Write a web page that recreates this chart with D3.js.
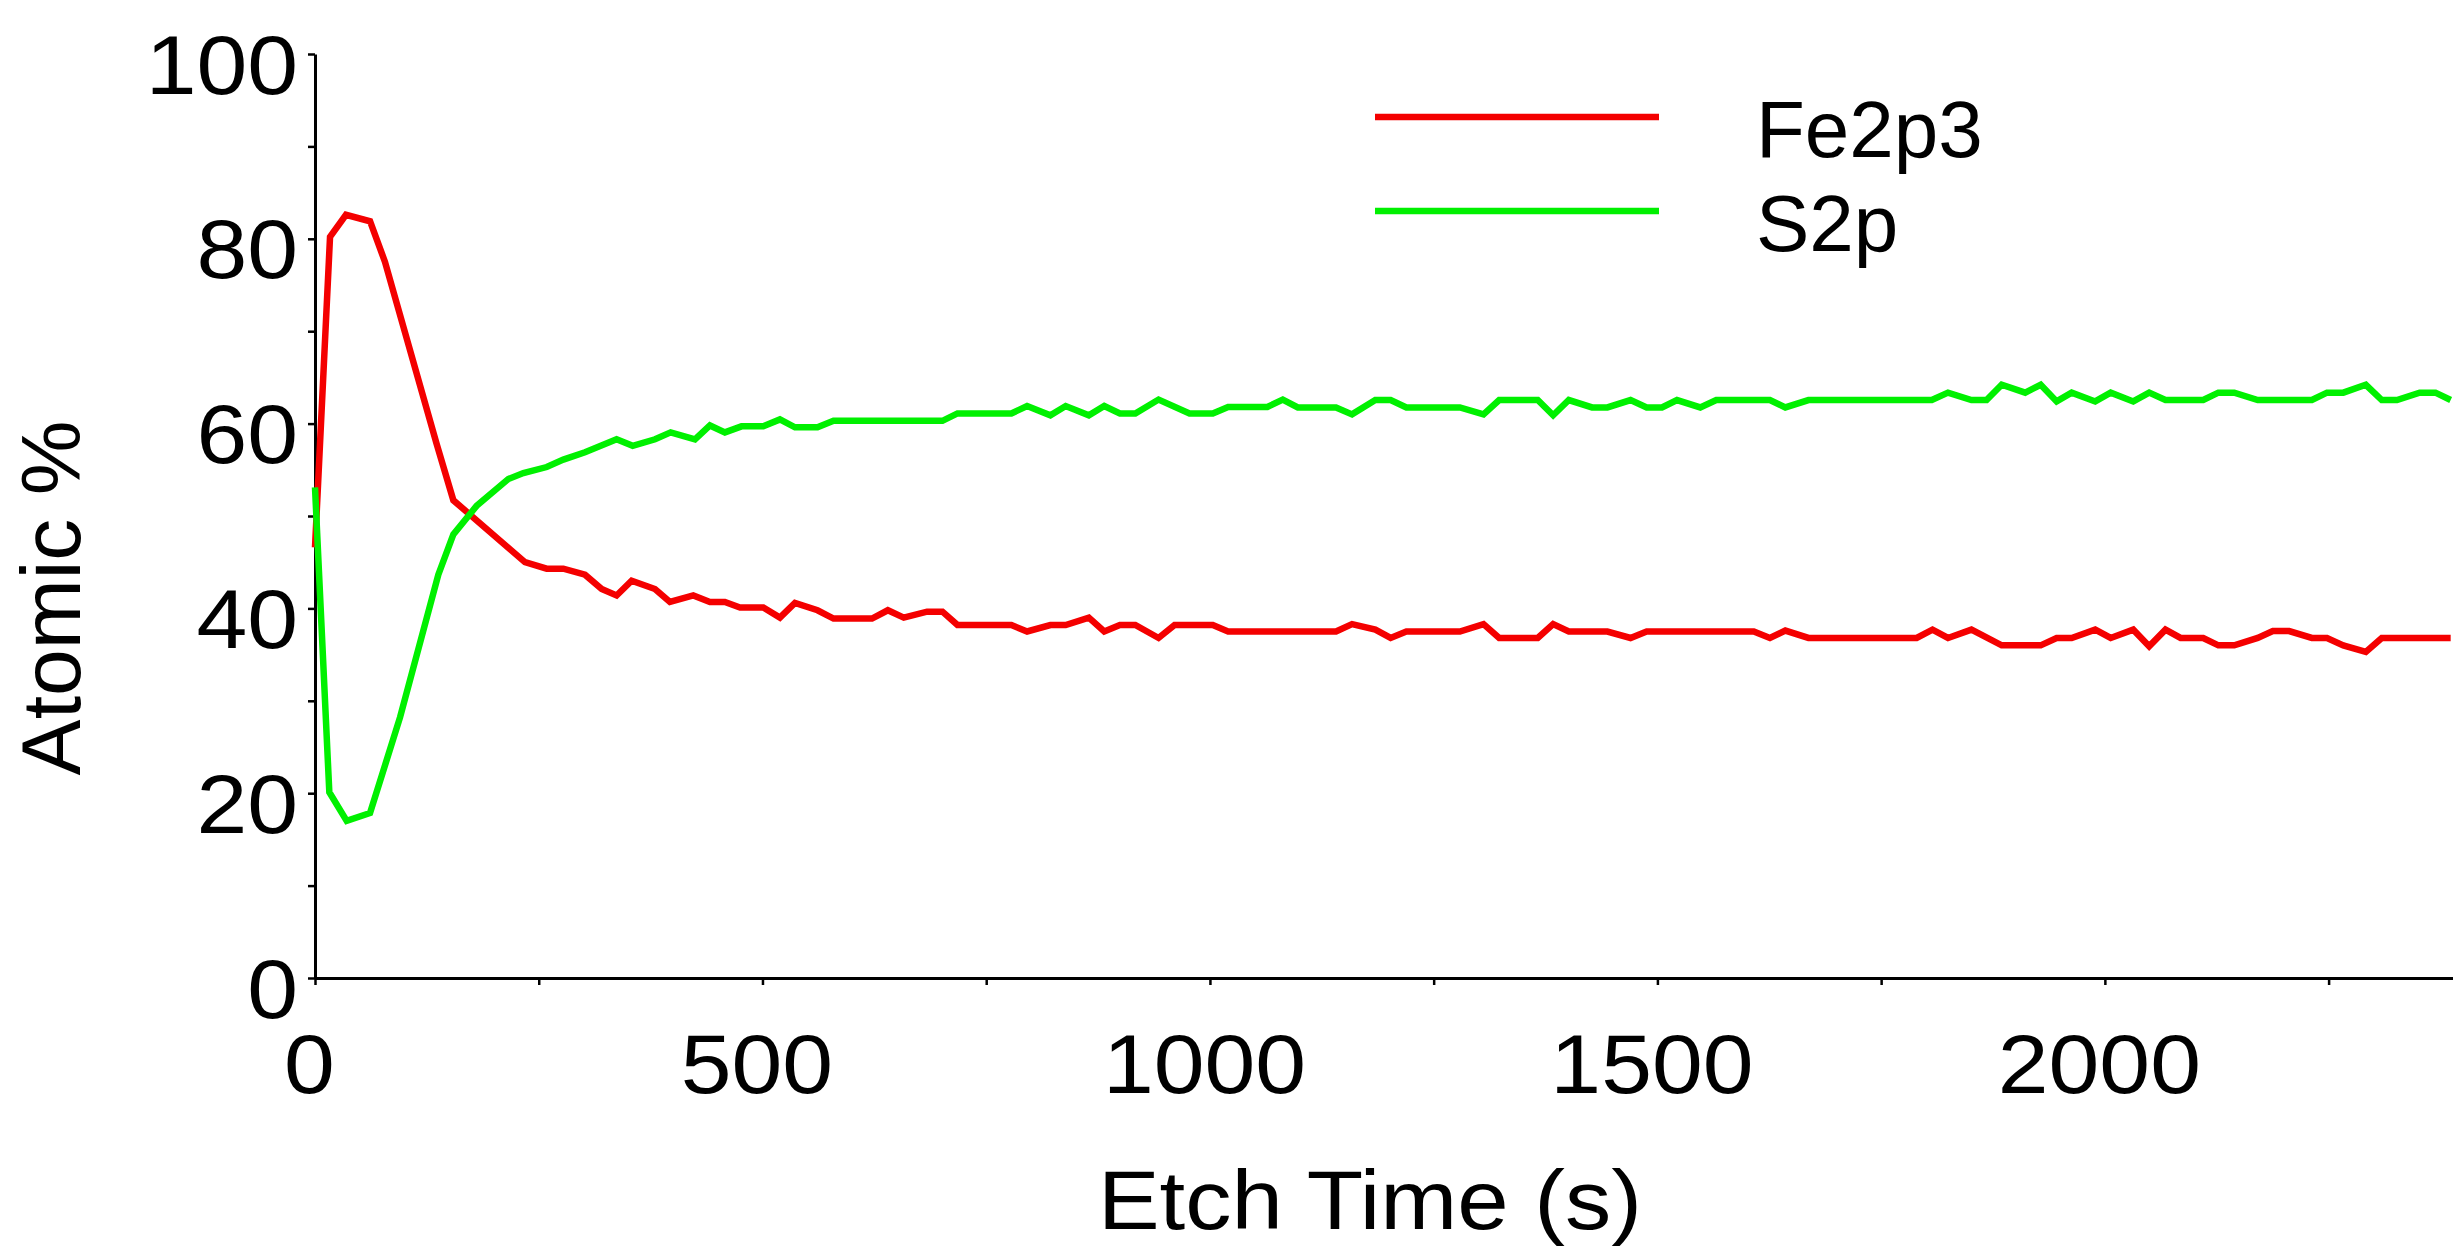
<!DOCTYPE html>
<html>
<head>
<meta charset="utf-8">
<script src="https://cdn.jsdelivr.net/npm/d3@7"></script>
<style>
  html, body { margin: 0; padding: 0; background: #fff; }
  svg text { font-family: "Liberation Sans", Arial, sans-serif; fill: #000; }
</style>
</head>
<body>
<div id="chart"></div>
<script>
// 刻蚀时间 (s) 与原子百分比
var feTime = [0, 16.8, 34.6, 61.5, 78.2, 135.9, 154.6, 234.6, 258.9, 277.5, 301.7, 320.3, 337, 353.8, 379.9,
    396.6, 422.7, 441.3, 458, 474.9, 500.9, 519.5, 536.3, 561.5, 579.4, 622.4, 640.1, 657.9, 683.9, 701.1,
    717.9, 778.1, 795.7, 821.7, 838.8, 864.7, 881.9, 899.4, 916.6, 942.6, 960.5, 1003.2, 1020.3, 1140.9,
    1158.8, 1184.8, 1201.9, 1219.5, 1279.3, 1305.7, 1323.2, 1366.3, 1383.5, 1401, 1444.1, 1470, 1488,
    1607.7, 1625.7, 1642.9, 1668.8, 1789.7, 1807.4, 1824.7, 1850.9, 1884.7, 1928.3, 1946.1, 1962.9,
    1989.2, 2006.5, 2031.7, 2049.5, 2067.7, 2084.6, 2109.9, 2126.8, 2144.6, 2170.8, 2187.7, 2205.9,
    2231.3, 2248.2, 2266.4, 2291.6, 2309.4, 2386.4];
var feValue = [46.6, 80.2, 82.6, 81.9, 77.5, 57.8, 51.7, 45.0, 44.3, 44.3, 43.65, 42.1, 41.4, 43.0, 42.1,
    40.7, 41.4, 40.7, 40.7, 40.1, 40.1, 39.0, 40.6, 39.8, 38.9, 38.9, 39.8, 39.0, 39.65, 39.65,
    38.2, 38.2, 37.5, 38.2, 38.2, 39.0, 37.5, 38.2, 38.2, 36.8, 38.2, 38.2, 37.5, 37.5,
    38.3, 37.7, 36.8, 37.5, 37.5, 38.3, 36.8, 36.8, 38.3, 37.5, 37.5, 36.8, 37.5,
    37.5, 36.8, 37.6, 36.8, 36.8, 37.7, 36.8, 37.7, 36.0, 36.0, 36.8, 36.8,
    37.7, 36.8, 37.7, 35.9, 37.7, 36.8, 36.8, 36.0, 36.0, 36.8, 37.55, 37.55,
    36.8, 36.8, 36.0, 35.3, 36.8, 36.8];

var sTime = [0, 16, 35.4, 61.5, 95, 137.8, 154.6, 180.6, 216, 232.8, 258.9, 277.5, 301.7, 337, 355, 380,
    397.4, 424.6, 441.3, 458, 476.6, 500.9, 519.5, 536.3, 561.5, 579.4, 701.1, 717.9, 778.1, 795.7,
    821.7, 838.8, 864.7, 881.9, 899.4, 916.6, 942.6, 977.2, 1003.2, 1020.3, 1064.2, 1081.4, 1098.2,
    1140.9, 1158.8, 1184.8, 1201.9, 1219.5, 1279.3, 1305.7, 1323.2, 1366.3, 1383.5, 1401, 1427, 1444.1,
    1470, 1488, 1505.1, 1521.9, 1547.9, 1565.8, 1625.7, 1642.9, 1668.8, 1806.6, 1824.7, 1850.9, 1867.8,
    1884.7, 1911, 1928.3, 1946.1, 1962.9, 1989.2, 2006.5, 2031.7, 2049.5, 2067.7, 2109.9, 2126.8,
    2144.6, 2170.8, 2231.3, 2248.2, 2266.4, 2291.6, 2309.4, 2326.4, 2351.7, 2369.4, 2386.4];
var sValue = [53.1, 20.1, 17.0, 17.85, 28.2, 43.65, 48.0, 51.1, 54.0, 54.65, 55.3, 56.1, 56.9, 58.3, 57.6, 58.3,
    59.05, 58.3, 59.8, 59.05, 59.7, 59.7, 60.45, 59.6, 59.6, 60.3, 60.3, 61.1, 61.1, 61.9,
    60.9, 61.9, 60.9, 61.9, 61.1, 61.1, 62.6, 61.1, 61.1, 61.8, 61.8, 62.6, 61.75,
    61.75, 61.0, 62.55, 62.55, 61.75, 61.75, 61.0, 62.55, 62.55, 60.9, 62.55, 61.75, 61.75,
    62.55, 61.75, 61.75, 62.55, 61.75, 62.55, 62.55, 61.75, 62.55, 62.55, 63.35, 62.55, 62.55,
    64.2, 63.35, 64.2, 62.4, 63.35, 62.4, 63.35, 62.4, 63.35, 62.55, 62.55, 63.35,
    63.35, 62.55, 62.55, 63.35, 63.35, 64.2, 62.55, 62.55, 63.35, 63.35, 62.55];

var seriesNames = ["Fe2p3", "S2p"];
var seriesColors = ["#f40000", "#00f000"];
var yTicks = [0, 10, 20, 30, 40, 50, 60, 70, 80, 90, 100];
var xTicks = [0, 250, 500, 750, 1000, 1250, 1500, 1750, 2000, 2250];

document.addEventListener("DOMContentLoaded", function(){
    var W = 2453, H = 1249;
    var stretch = 1.1; // 原图文字横向略宽
    var svg = d3.select("#chart").append("svg")
        .attr("width", W).attr("height", H);

    var x = d3.scaleLinear().domain([0, 2389]).range([315, 2453]);
    var y = d3.scaleLinear().domain([0, 100]).range([978, 54]);

    // 纵轴
    var gy = svg.append("g")
        .attr("transform", "translate(315,0)")
        .call(d3.axisLeft(y).tickValues(yTicks).tickSize(7).tickSizeOuter(0)
            .tickFormat(function(d){ return d % 20 === 0 ? d : ""; }));
    gy.select(".domain").attr("stroke", "#000").attr("stroke-width", 3);
    gy.selectAll(".tick line").attr("stroke", "#000").attr("stroke-width", 2.5);
    gy.selectAll(".tick text")
        .attr("x", 0).attr("dy", 0).attr("y", 0)
        .attr("transform", "translate(-17,39) scale(" + stretch + ",1)")
        .style("font-size", "83px");

    // 横轴
    var gx = svg.append("g")
        .attr("transform", "translate(0,978)")
        .call(d3.axisBottom(x).tickValues(xTicks).tickSize(7).tickSizeOuter(0)
            .tickFormat(function(d){ return d % 500 === 0 ? d : ""; }));
    gx.select(".domain").attr("stroke", "#000").attr("stroke-width", 3);
    gx.selectAll(".tick line").attr("stroke", "#000").attr("stroke-width", 2.5);
    gx.selectAll(".tick text")
        .attr("y", 0).attr("dy", 0)
        .attr("transform", "translate(-6,115) scale(" + stretch + ",1)")
        .style("font-size", "83px");

    // 曲线
    var line = d3.line()
        .x(function(d){ return x(d[0]); })
        .y(function(d){ return y(d[1]); });
    var feData = feTime.map(function(t, i){ return [t, feValue[i]]; });
    var sData = sTime.map(function(t, i){ return [t, sValue[i]]; });
    [feData, sData].forEach(function(data, i){
        svg.append("path")
            .datum(data)
            .attr("fill", "none")
            .attr("stroke", seriesColors[i])
            .attr("stroke-width", 6.5)
            .attr("stroke-linejoin", "miter")
            .attr("d", line);
    });

    // 图例
    var legendY = [117, 211];
    seriesNames.forEach(function(name, i){
        svg.append("line")
            .attr("x1", 1375).attr("x2", 1659)
            .attr("y1", legendY[i]).attr("y2", legendY[i])
            .attr("stroke", seriesColors[i])
            .attr("stroke-width", 6.5);
        svg.append("text")
            .attr("x", 1756).attr("y", legendY[i] + 40)
            .style("font-size", "80px")
            .text(name);
    });

    // 轴标题
    svg.append("text")
        .attr("transform", "translate(1370,1229) scale(" + stretch + ",1)")
        .attr("text-anchor", "middle")
        .style("font-size", "84px")
        .text("Etch Time (s)");
    svg.append("text")
        .attr("transform", "translate(80,598) rotate(-90)")
        .attr("text-anchor", "middle")
        .style("font-size", "84px")
        .text("Atomic %");
});
</script>
</body>
</html>
